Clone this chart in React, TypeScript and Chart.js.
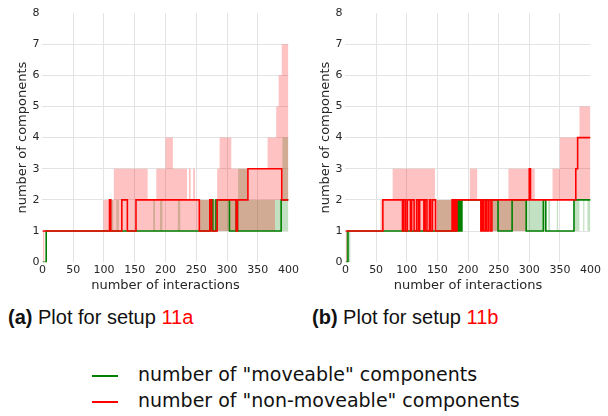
import React, { useEffect, useRef } from "react";
import { Chart, registerables } from "chart.js";

Chart.register(...registerables);

type Step = [number, number];

// ---------- axes ----------
const xMin = 0;
const xMax = 400;
const xStep = 50;
const yMin = 0;
const yMax = 8;
const yStep = 1;
const xTitle = "number of interactions";
const yTitle = "number of components";
const seriesLabels = ['number of "moveable" components', 'number of "non-moveable" components'];
const captions = [
  { tag: "(a)", text: " Plot for setup ", ref: "11a" },
  { tag: "(b)", text: " Plot for setup ", ref: "11b" },
];

// ---------- panel (a) : [interaction, value] step changes ----------
const moveableA: Step[] = [[0, 0], [6, 1], [273, 2], [277, 1], [282, 2], [304, 1], [315, 2], [317, 1], [388, 2], [400, 2]];
const nonMoveableA: Step[] = [[0, 1], [109, 2], [111, 1], [129, 2], [138, 1], [152, 2], [255, 1], [272, 2], [275, 1], [284, 2], [315, 1], [317, 2], [334, 3], [389, 2], [400, 2]];
const moveableLowA: Step[] = [[0, 1], [400, 1]];
const moveableHighA: Step[] = [[0, 1], [110, 2], [115, 1], [120, 2], [124, 1], [180, 2], [183, 1], [191, 2], [195, 1], [220, 2], [224, 1], [256, 2], [318, 3], [334, 2], [390, 4], [400, 4]];
const nonMoveableLowA: Step[] = [[0, 0], [3, 1], [378, 2], [400, 2]];
const nonMoveableHighA: Step[] = [[0, 1], [99, 2], [116, 3], [171, 2], [185, 3], [200, 4], [212, 3], [235, 2], [238, 3], [241, 2], [245, 3], [248, 2], [284, 3], [288, 4], [307, 3], [366, 4], [380, 5], [384, 6], [389, 7], [400, 7]];

// ---------- panel (b) ----------
const moveableB: Step[] = [[0, 0], [4, 1], [182, 2], [184, 1], [186, 2], [188, 1], [190, 2], [249, 1], [272, 2], [295, 1], [323, 2], [327, 1], [373, 2], [400, 2]];
const nonMoveableB: Step[] = [[0, 1], [61, 2], [93, 1], [95, 2], [98, 1], [101, 2], [106, 1], [108, 2], [112, 1], [116, 2], [119, 1], [121, 2], [128, 1], [130, 2], [133, 1], [137, 2], [139, 1], [142, 2], [147, 1], [174, 2], [176, 1], [178, 2], [180, 1], [182, 2], [221, 1], [223, 2], [225, 1], [228, 2], [230, 1], [233, 2], [236, 1], [239, 2], [300, 3], [302, 2], [376, 3], [379, 4], [400, 4]];
const moveableLowB: Step[] = [[0, 0], [8, 1], [400, 1]];
const moveableHighB: Step[] = [[0, 1], [150, 2], [191, 1], [221, 2], [224, 1], [228, 2], [232, 1], [236, 2], [327, 1], [331, 2], [334, 1], [345, 2], [347, 1], [373, 2], [382, 1], [388, 2], [390, 1], [395, 2], [400, 2]];
const nonMoveableLowB: Step[] = [[0, 0], [3, 1], [188, 2], [220, 1], [295, 2], [400, 2]];
const nonMoveableHighB: Step[] = [[0, 1], [57, 2], [77, 3], [146, 2], [203, 3], [215, 2], [266, 3], [309, 2], [338, 3], [350, 4], [382, 5], [400, 5]];

// ---------- styles ----------
const GREEN = "#008000";
const RED = "#ff0000";
const GREEN_BAND = "rgba(0,128,0,0.24)";
const RED_BAND = "rgba(255,0,0,0.24)";
const GRID = "#e3e3e3";
const TEXT = "#262626";
const FONT = "'DejaVu Sans', sans-serif";

const CW = 300;
const CH = 293;

const pts = (s: Step[]) => s.map(([x, y]) => ({ x, y }));

type PanelProps = {
  left: number;
  width: number;
  moveable: Step[];
  nonMoveable: Step[];
  mLow: Step[];
  mHigh: Step[];
  nLow: Step[];
  nHigh: Step[];
};

function Panel(p: PanelProps) {
  const ref = useRef<HTMLCanvasElement>(null);
  useEffect(() => {
    const base = {
      stepped: true as const,
      pointRadius: 0,
      pointHoverRadius: 0,
    };
    const chart = new Chart(ref.current!, {
      type: "line",
      data: {
        datasets: [
          { ...base, label: seriesLabels[1], data: pts(p.nonMoveable), borderColor: RED, borderWidth: 1.6, fill: false },
          { ...base, label: seriesLabels[0], data: pts(p.moveable), borderColor: GREEN, borderWidth: 1.6, fill: false },
          { ...base, label: "nm high", data: pts(p.nHigh), borderColor: "rgba(0,0,0,0)", borderWidth: 0, backgroundColor: RED_BAND, fill: 3 },
          { ...base, label: "nm low", data: pts(p.nLow), borderColor: "rgba(0,0,0,0)", borderWidth: 0, fill: false },
          { ...base, label: "m high", data: pts(p.mHigh), borderColor: "rgba(0,0,0,0)", borderWidth: 0, backgroundColor: GREEN_BAND, fill: 5 },
          { ...base, label: "m low", data: pts(p.mLow), borderColor: "rgba(0,0,0,0)", borderWidth: 0, fill: false },
        ],
      },
      options: {
        animation: false,
        responsive: false,
        maintainAspectRatio: false,
        events: [],
        layout: { padding: { left: 7, top: 13, right: 11, bottom: 0 } },
        plugins: {
          legend: { display: false },
          tooltip: { enabled: false },
        },
        scales: {
          x: {
            type: "linear",
            min: xMin,
            max: xMax,
            border: { display: false },
            grid: {
              drawTicks: false,
              color: (c: any) => (c.tick && (c.tick.value === xMin || c.tick.value === xMax) ? "rgba(0,0,0,0)" : GRID),
            },
            ticks: {
              stepSize: xStep,
              padding: 1,
              maxRotation: 0,
              autoSkip: false,
              color: TEXT,
              font: { family: FONT, size: 11 },
            },
            title: {
              display: true,
              text: xTitle,
              color: TEXT,
              font: { family: FONT, size: 13 },
              padding: { top: 0, bottom: 0 },
            },
          },
          y: {
            type: "linear",
            min: yMin,
            max: yMax,
            border: { display: false },
            grid: {
              drawTicks: false,
              color: (c: any) => (c.tick && (c.tick.value === yMin || c.tick.value === yMax) ? "rgba(0,0,0,0)" : GRID),
            },
            ticks: {
              stepSize: yStep,
              padding: 3,
              color: TEXT,
              font: { family: FONT, size: 11 },
            },
            title: {
              display: true,
              text: yTitle,
              color: TEXT,
              font: { family: FONT, size: 13, lineHeight: 1 },
              padding: { top: 9.5, bottom: 0 },
            },
          },
        },
      },
    } as any);
    return () => chart.destroy();
  }, []);
  return (
    <canvas
      ref={ref}
      width={p.width}
      height={CH}
      style={{ position: "absolute", left: p.left, top: 0, width: p.width, height: CH }}
    />
  );
}

export default function App() {
  const capStyle: React.CSSProperties = {
    position: "absolute",
    top: 307,
    fontFamily: "'Liberation Sans', Arial, sans-serif",
    fontSize: 20,
    lineHeight: "20px",
    color: "#111",
    whiteSpace: "nowrap",
  };
  const legText: React.CSSProperties = {
    position: "absolute",
    left: 138,
    fontFamily: FONT,
    fontSize: 19,
    lineHeight: "19px",
    color: "#111",
    whiteSpace: "nowrap",
  };
  return (
    <div style={{ position: "fixed", left: 0, top: 0, width: 608, height: 416, background: "#fff", overflow: "hidden" }}>
      <Panel left={0} width={CW} moveable={moveableA} nonMoveable={nonMoveableA} mLow={moveableLowA} mHigh={moveableHighA} nLow={nonMoveableLowA} nHigh={nonMoveableHighA} />
      <Panel left={303} width={CW - 1} moveable={moveableB} nonMoveable={nonMoveableB} mLow={moveableLowB} mHigh={moveableHighB} nLow={nonMoveableLowB} nHigh={nonMoveableHighB} />
      {captions.map((c, i) => (
        <div key={c.ref} style={{ ...capStyle, left: i === 0 ? 8 : 312 }}>
          <b>{c.tag}</b>
          {c.text}
          <span style={{ color: "#ff0000" }}>{c.ref}</span>
        </div>
      ))}
      <div style={{ position: "absolute", left: 92, top: 375, width: 26, height: 2, background: GREEN }} />
      <div style={{ position: "absolute", left: 92, top: 401, width: 26, height: 2, background: RED }} />
      <div style={{ ...legText, top: 365 }}>{seriesLabels[0]}</div>
      <div style={{ ...legText, top: 391 }}>{seriesLabels[1]}</div>
    </div>
  );
}
